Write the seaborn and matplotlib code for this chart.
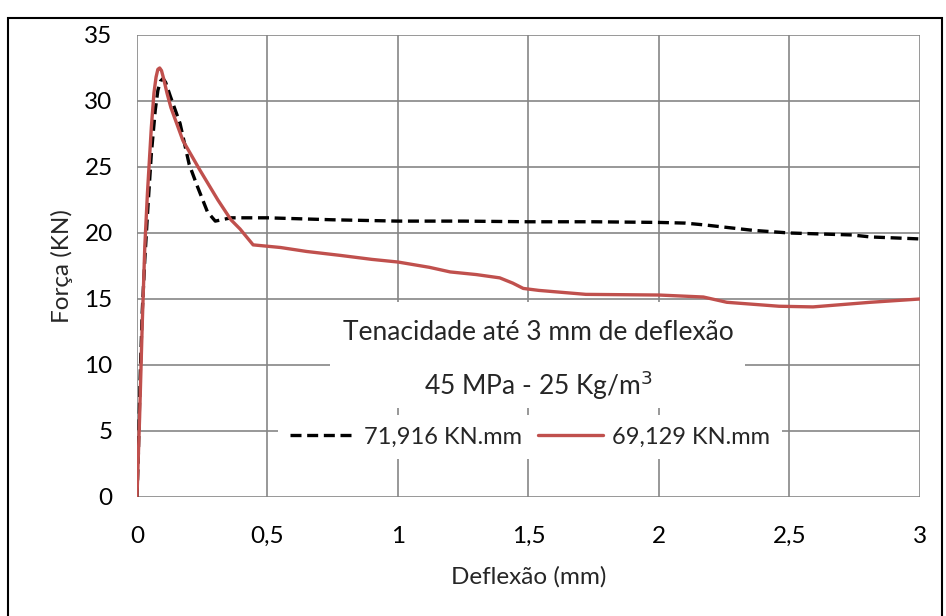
import numpy as np
import pandas as pd
import matplotlib
matplotlib.use("Agg")
import matplotlib.pyplot as plt
from matplotlib.patches import Rectangle
import seaborn as sns

# black dashed curve (71,916 KN.mm)
defl_a = [0, 0.005, 0.012, 0.02, 0.03, 0.042, 0.055, 0.07, 0.08, 0.09, 0.1, 0.11, 0.127,
          0.165, 0.2, 0.23, 0.27, 0.3, 0.36, 0.5, 0.75, 1.0, 1.25, 1.5, 1.75, 2.0, 2.1,
          2.18, 2.36, 2.5, 2.74, 2.81, 3.0]
force_a = [0, 3, 9, 14, 18, 22, 26, 29.3, 30.8, 31.5, 31.7, 31.4, 30.4,
           28.3, 25.2, 23.6, 21.6, 20.9, 21.15, 21.15, 21.0, 20.9, 20.9, 20.85, 20.85, 20.8, 20.75,
           20.6, 20.2, 20.0, 19.85, 19.7, 19.55]

# red solid curve (69,129 KN.mm)
defl_b = [0, 0.01, 0.02, 0.03, 0.04, 0.055, 0.065, 0.073, 0.08, 0.087, 0.094, 0.102,
          0.115, 0.13, 0.176, 0.24, 0.31, 0.36, 0.395, 0.445, 0.55, 0.65, 0.78, 0.9, 1.0,
          1.12, 1.2, 1.3, 1.39, 1.44, 1.48, 1.54, 1.72, 2.0, 2.17, 2.26, 2.46, 2.59, 2.81, 3.0]
force_b = [0, 6, 13, 19, 23, 28, 30.6, 31.8, 32.4, 32.5, 32.3, 31.7,
           30.6, 29.5, 27.0, 24.8, 22.5, 21.0, 20.3, 19.1, 18.9, 18.6, 18.3, 18.0, 17.8,
           17.4, 17.05, 16.85, 16.6, 16.2, 15.8, 15.65, 15.35, 15.3, 15.15, 14.75, 14.45, 14.4, 14.75, 15.0]

labels = ["71,916 KN.mm", "69,129 KN.mm"]
x_ticks = [0, 0.5, 1, 1.5, 2, 2.5, 3]
x_ticklabels = ["0", "0,5", "1", "1,5", "2", "2,5", "3"]
y_ticks = list(range(0, 40, 5))

sns.set_theme(style="white")
plt.rcParams['font.family'] = ['Lato', 'DejaVu Sans']

grid_col = "#868686"
fs = 17.5
fig = plt.figure(figsize=(9.46, 6.16), dpi=100)
ax = fig.add_axes([0.1448, 0.1932, 0.8277, 0.75])

sns.lineplot(x=defl_a, y=force_a, ax=ax, color="black", linewidth=2.4,
             label=labels[0], estimator=None, sort=False, zorder=4)
ax.lines[-1].set_dashes((3.3, 1.7))
sns.lineplot(x=defl_b, y=force_b, ax=ax, color="#C0504D", linewidth=2.4,
             label=labels[1], estimator=None, sort=False, zorder=5)

ax.set_xlim(0, 3)
ax.set_ylim(0, 35)
ax.set_xticks(x_ticks)
ax.set_xticklabels(x_ticklabels)
ax.set_yticks(y_ticks)
ax.grid(True, color=grid_col, linewidth=1.2)
ax.set_axisbelow(True)
for s in ax.spines.values():
    s.set_visible(False)
ax.tick_params(axis="both", labelsize=fs, colors="black", width=1.2,
               color=grid_col, direction="out")
ax.tick_params(axis="x", length=0, pad=21)
ax.tick_params(axis="y", length=6.5, pad=11)
ax.set_xlabel("Deflexão (mm)", fontsize=fs)
ax.set_ylabel("Força (KN)", fontsize=fs)
ax.xaxis.set_label_coords(0.5, -0.150)
ax.yaxis.set_label_coords(-0.082, 0.5)

# white box behind the overlaid title
ax.add_patch(Rectangle((0.2465, 0.1926), 0.53, 0.2294, transform=ax.transAxes,
                       facecolor="white", edgecolor="none", zorder=3))
ax.text(0.512, 0.357, "Tenacidade até 3 mm de deflexão", transform=ax.transAxes,
        ha="center", va="center", fontsize=19, zorder=6)
ax.text(0.512, 0.242, "45 MPa - 25 Kg/m$^3$", transform=ax.transAxes,
        ha="center", va="center", fontsize=19, zorder=6)

leg = ax.legend(loc="center", bbox_to_anchor=(0.502, 0.13), ncol=2, frameon=True,
                fontsize=17, handlelength=2.75, handletextpad=0.42, columnspacing=0.64,
                borderpad=0.5, fancybox=False)
leg.get_frame().set_facecolor("white")
leg.get_frame().set_edgecolor("none")
leg.get_frame().set_alpha(1)
leg.set_zorder(7)

# outer chart border and cut-off caption above
fig.patches.append(Rectangle((8 / 946, -0.05), 934 / 946, 1.05 - 18 / 616,
                             transform=fig.transFigure, facecolor="none",
                             edgecolor="black", linewidth=1.5))
fig.text(15 / 946, 1.0 + 6 / 616, "Figura 16 - Curvas força x deflexão para C45-25",
         family="Liberation Serif", fontweight="bold", fontsize=12, va="bottom")

fig.savefig("out.png", dpi=100)
